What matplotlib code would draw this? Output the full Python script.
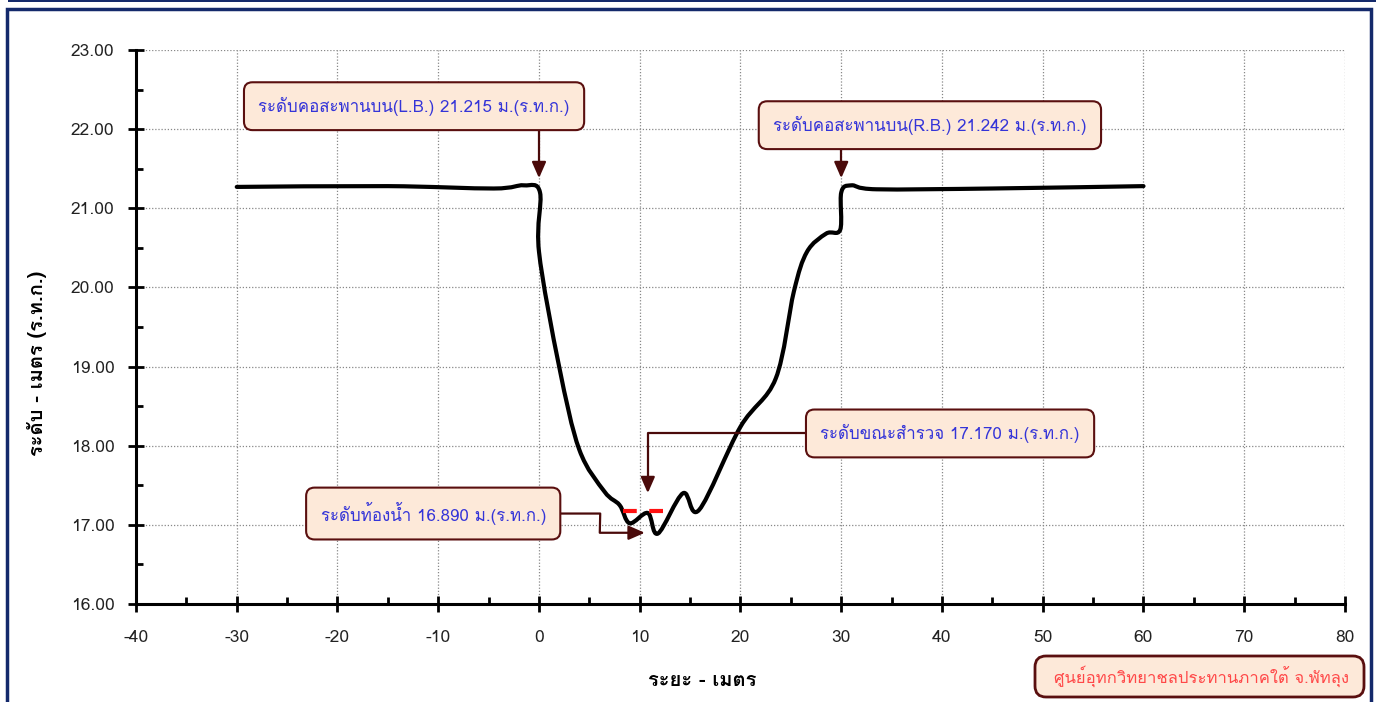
import numpy as np
import matplotlib
matplotlib.use('Agg')
import matplotlib.pyplot as plt
from matplotlib.path import Path
from matplotlib.patches import PathPatch, Rectangle, FancyBboxPatch, BoxStyle

plt.rcParams['font.family'] = ['Loma', 'DejaVu Sans']
plt.rcParams['axes.unicode_minus'] = False

# cross-section survey points (distance m, level m MSL)
dist = [-30, -15, -4.5, -1.5, 0.1, 0.0, 2.0, 4.0, 6.5, 8.0, 9.0, 10.8, 11.8,
        14.3, 15.9, 20.0, 23.5, 25.3, 26.6, 28.5, 29.9, 30.0, 31.0, 33.5, 45.0, 60.0]
level = [21.27, 21.28, 21.25, 21.29, 21.20, 20.45, 19.00, 17.95, 17.42, 17.25,
         17.02, 17.15, 16.89, 17.40, 17.19, 18.24, 18.85, 19.95, 20.45, 20.68,
         20.73, 21.20, 21.29, 21.24, 21.25, 21.28]

water_x = [8.3, 12.3]
water_level = 17.170

txt_lb = 'ระดับคอสะพานบน(L.B.) 21.215 ม.(ร.ท.ก.)'
txt_rb = 'ระดับคอสะพานบน(R.B.) 21.242 ม.(ร.ท.ก.)'
txt_wl = 'ระดับขณะสำรวจ 17.170 ม.(ร.ท.ก.)'
txt_bed = 'ระดับท้องน้ำ 16.890 ม.(ร.ท.ก.)'
txt_org = 'ศูนย์อุทกวิทยาชลประทานภาคใต้ จ.พัทลุง'


def smooth_path(xs, ys):
    # excel style smoothed line: catmull-rom segments as cubic beziers
    p = np.column_stack([xs, ys])
    pts = np.vstack([p[0], p, p[-1]])
    verts = [p[0]]
    codes = [Path.MOVETO]
    for i in range(1, len(pts) - 2):
        p0, p1, p2, p3 = pts[i - 1], pts[i], pts[i + 1], pts[i + 2]
        verts += [p1 + (p2 - p0) / 6.0, p2 - (p3 - p1) / 6.0, p2]
        codes += [Path.CURVE4] * 3
    return Path(verts, codes)


def padded_round(padx, pady, r):
    base = BoxStyle.Round(pad=0, rounding_size=r)

    def style(x0, y0, width, height, mutation_size):
        px, py = padx * mutation_size, pady * mutation_size
        return base(x0 - px, y0 - py, width + 2 * px, height + 2 * py, mutation_size)
    return style


fig = plt.figure(figsize=(13.76, 7.02), dpi=100)
ax = fig.add_axes([136 / 1376, 1 - 604 / 702, (1345 - 136) / 1376, (604 - 50) / 702])

ax.add_patch(PathPatch(smooth_path(dist, level), fill=False, lw=3, color='black',
                       capstyle='round', joinstyle='round', zorder=3))
ax.plot(water_x, [water_level] * 2, color='#FF1010', lw=3, dashes=(3.3, 3.0), zorder=4)

ax.set_xlim(-40, 80)
ax.set_ylim(16, 23)
ax.set_xticks(np.arange(-40, 81, 10))
ax.set_xticks(np.arange(-35, 80, 10), minor=True)
ax.set_yticks(np.arange(16, 23.01, 1))
ax.set_yticks(np.arange(16.5, 23, 1), minor=True)
ax.set_yticklabels(['%.2f' % v for v in np.arange(16, 23.01, 1)])
ax.tick_params(which='major', direction='inout', length=11, width=2, labelsize=12.5,
               colors='black', labelcolor='#222222')
ax.tick_params(axis='y', which='major', pad=10)
ax.tick_params(axis='x', which='major', pad=13)
ax.tick_params(which='minor', direction='in', length=5, width=2)
ax.grid(True, which='major', color='#888888', ls=(0, (1, 1.5)), lw=0.9)
for s in ['top', 'right']:
    ax.spines[s].set_visible(False)
for s in ['left', 'bottom']:
    ax.spines[s].set_linewidth(2.2)
ax.set_axisbelow(True)

box = dict(boxstyle=padded_round(0.85, 0.85, 0.5), fc='#FDE9D9', ec='#5A0F0F', lw=1.5)
arrow = dict(arrowstyle='-|>,head_length=0.8,head_width=0.35', color='#4A0A0A', lw=1.6,
             shrinkA=0, shrinkB=0)
down = 'angle,angleA=0,angleB=90,rad=0'
fs = 12.2
blue = '#3434D8'

ax.annotate(txt_lb, xy=(0, 21.38), xytext=(-12.4, 22.29), fontsize=fs, color=blue,
            ha='center', va='center', bbox=box, arrowprops=dict(arrow, connectionstyle=down))
ax.annotate(txt_rb, xy=(30, 21.38), xytext=(38.8, 22.05), fontsize=fs, color=blue,
            ha='center', va='center', bbox=box, arrowprops=dict(arrow, connectionstyle=down))
ax.annotate(txt_wl, xy=(10.8, 17.40), xytext=(40.8, 18.155), fontsize=fs, color=blue,
            ha='center', va='center', bbox=box, arrowprops=dict(arrow, connectionstyle=down))
ax.annotate(txt_bed, xy=(10.5, 16.90), xytext=(-10.5, 17.143), fontsize=fs, color=blue,
            ha='center', va='center', bbox=box,
            arrowprops=dict(arrow, connectionstyle='arc,angleA=0,armA=167,angleB=180,armB=45,rad=0'))

# credit box, bottom right
fig.patches.append(FancyBboxPatch((1035 / 1376, 1 - 697 / 702), 329 / 1376, 41 / 702,
                                  boxstyle='round,pad=0,rounding_size=0.008',
                                  mutation_aspect=1376 / 702, transform=fig.transFigure,
                                  fc='#FDE9D9', ec='#5A0F0F', lw=2))
fig.text(1201 / 1376, 1 - 676.5 / 702, txt_org, fontsize=12, color='#FF4848',
         ha='center', va='center')

fig.text(702 / 1376, 1 - 680 / 702, 'ระยะ - เมตร', fontsize=14.5, fontweight='bold',
         ha='center', va='center')
fig.text(37 / 1376, 1 - 363 / 702, 'ระดับ - เมตร (ร.ท.ก.)', fontsize=14.5, fontweight='bold',
         ha='center', va='center', rotation=90)

# outer frame
fig.patches.append(Rectangle((7 / 1376, -0.05), (1364 / 1376), 1 - 9 / 702 + 0.05,
                             transform=fig.transFigure, fill=False, ec='#14296B', lw=2.5))
fig.patches.append(Rectangle((8 / 1376, 1 - 1.5 / 702), 1, 0.01, transform=fig.transFigure,
                             fill=True, fc='#14296B', ec='none'))

fig.savefig('out.png', dpi=100)
